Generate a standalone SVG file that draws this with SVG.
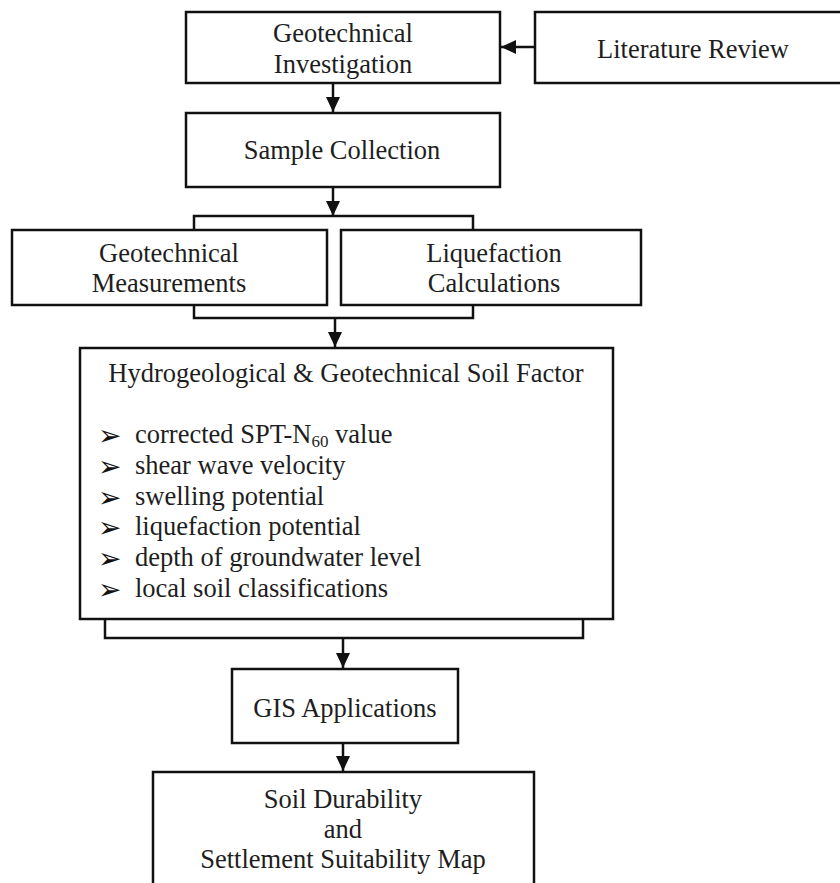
<svg xmlns="http://www.w3.org/2000/svg" width="840" height="883" viewBox="0 0 840 883">
<style>
.box{fill:#fff;stroke:#111;stroke-width:2.5}
.t{font-family:"Liberation Serif","Times New Roman",serif;font-size:26.5px;fill:#1e1e1e;text-anchor:middle}
.tl{font-family:"Liberation Serif","Times New Roman",serif;font-size:26.5px;fill:#1e1e1e}
.b{font-family:"DejaVu Sans",sans-serif;font-size:28px;fill:#111}
.c{fill:none;stroke:#111;stroke-width:2.5}
</style>
<defs>
<marker id="ah" markerUnits="userSpaceOnUse" markerWidth="16" markerHeight="14" refX="15" refY="7" orient="auto">
<path d="M0,0 L15,7 L0,14 z" fill="#111"/>
</marker>
</defs>
<rect width="840" height="883" fill="#fff"/>
<g id="connectors">
<line class="c" x1="535" y1="47" x2="501" y2="47" marker-end="url(#ah)"/>
<line class="c" x1="333" y1="84" x2="333" y2="112" marker-end="url(#ah)"/>
<line class="c" x1="333" y1="188" x2="333" y2="216" marker-end="url(#ah)"/>
<polyline class="c" points="194,230 194,216 473,216 473,230"/>
<polyline class="c" points="194,305 194,318 473,318 473,305"/>
<line class="c" x1="335" y1="318" x2="335" y2="347" marker-end="url(#ah)"/>
<polyline class="c" points="105,620 105,638 583,638 583,620"/>
<line class="c" x1="343" y1="638" x2="343" y2="668" marker-end="url(#ah)"/>
<line class="c" x1="343" y1="744" x2="343" y2="771" marker-end="url(#ah)"/>
</g>
<g id="geo-investigation">
<rect class="box" x="186" y="12" width="314" height="71"/>
<text class="t" x="343" y="42">Geotechnical</text>
<text class="t" x="343" y="73">Investigation</text>
</g>
<g id="literature-review">
<rect class="box" x="535" y="12" width="317" height="71"/>
<text class="t" x="693" y="58">Literature Review</text>
</g>
<g id="sample-collection">
<rect class="box" x="186" y="113" width="314" height="74"/>
<text class="t" x="342" y="159">Sample Collection</text>
</g>
<g id="geo-measurements">
<rect class="box" x="12" y="230" width="315" height="75"/>
<text class="t" x="169" y="262">Geotechnical</text>
<text class="t" x="169" y="292">Measurements</text>
</g>
<g id="liquefaction">
<rect class="box" x="341" y="230" width="300" height="75"/>
<text class="t" x="494" y="262">Liquefaction</text>
<text class="t" x="494" y="292">Calculations</text>
</g>
<g id="soil-factor">
<rect class="box" x="80" y="348" width="533" height="271"/>
<text class="t" x="346" y="382">Hydrogeological &amp; Geotechnical Soil Factor</text>
<text class="b" x="98" y="445">➢</text>
<text class="tl" x="135" y="443">corrected SPT-N<tspan font-size="17" dy="4">60</tspan><tspan dy="-4"> value</tspan></text>
<text class="b" x="98" y="476">➢</text>
<text class="tl" x="135" y="474">shear wave velocity</text>
<text class="b" x="98" y="507">➢</text>
<text class="tl" x="135" y="505">swelling potential</text>
<text class="b" x="98" y="537">➢</text>
<text class="tl" x="135" y="535">liquefaction potential</text>
<text class="b" x="98" y="568">➢</text>
<text class="tl" x="135" y="566">depth of groundwater level</text>
<text class="b" x="98" y="599">➢</text>
<text class="tl" x="135" y="597">local soil classifications</text>
</g>
<g id="gis">
<rect class="box" x="232" y="669" width="226" height="74"/>
<text class="t" x="345" y="717">GIS Applications</text>
</g>
<g id="suitability-map">
<rect class="box" x="153" y="772" width="381" height="130"/>
<text class="t" x="343" y="808">Soil Durability</text>
<text class="t" x="343" y="838">and</text>
<text class="t" x="343" y="868">Settlement Suitability Map</text>
</g>
</svg>
